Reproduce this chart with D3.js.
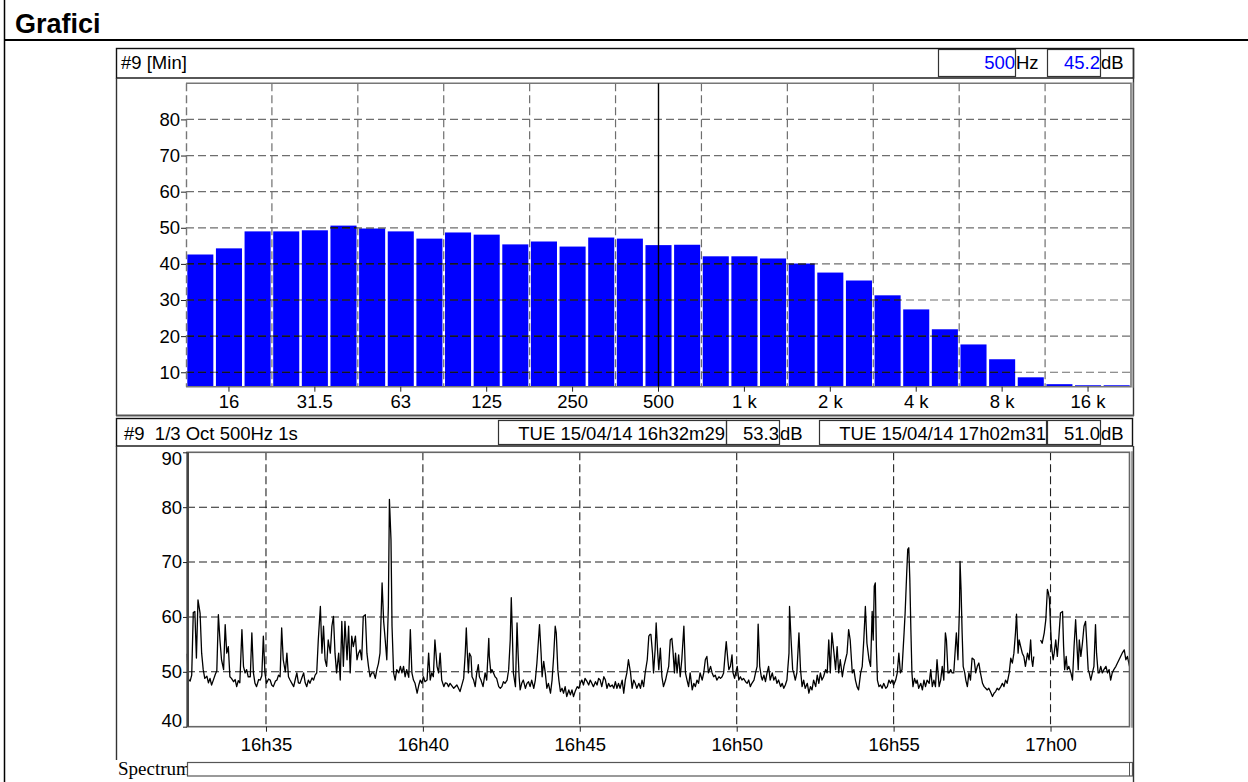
<!DOCTYPE html>
<html><head><meta charset="utf-8">
<script src="https://cdn.jsdelivr.net/npm/d3@7"></script>
<style>
html,body{margin:0;padding:0;background:#fff;}
svg{display:block;font-family:"Liberation Sans",Arial,Helvetica,sans-serif;}
text{white-space:pre;}
</style></head><body>
<svg id="chart" width="1248" height="782"></svg>
<script>
// ---- 1/3 octave spectrum (minimum levels) ----
const bandLabels = ["12.5","16","20","25","31.5","40","50","63","80","100","125","160","200","250","315","400","500","630","800","1k","1.25k","1.6k","2k","2.5k","3.15k","4k","5k","6.3k","8k","10k","12.5k","16k","20k"];
const bandMinDb  = [42.6,44.3,49.0,49.0,49.3,50.6,49.8,49.0,47.0,48.7,48.1,45.4,46.2,44.8,47.3,47.0,45.2,45.3,42.1,42.1,41.5,40.1,37.6,35.4,31.3,27.4,21.9,17.7,13.6,8.6,6.7,6.4,6.4];
const bandTicks  = ["16","31.5","63","125","250","500","1k","2k","4k","8k","16k"];
const bandTickText = ["16","31.5","63","125","250","500","1 k","2 k","4 k","8 k","16 k"];
const spectrumDbTicks = [10,20,30,40,50,60,70,80];
const cursorBand = "500";
const cursorDb = 45.2;

// ---- 500 Hz band level over time, [seconds after start, dB] ----
const startStamp = "TUE 15/04/14 16h32m29";
const endStamp   = "TUE 15/04/14 17h02m31";
const startDb = 53.3;
const endDb   = 51.0;
const levelTimeTicks = ["16h35","16h40","16h45","16h50","16h55","17h00"];
const levelDbTicks = [40,50,60,70,80,90];
const levelSamples = [
[0,53.3],[2,49.6],[3,48.6],[6,48.3],[9,49.4],[12,60.8],[15,61.0],[18,52.5],[21,63.1],[25,60.7],[28,53.4],[31,50.4],[34,48.8],[38,49.2],[41,48.0],[44,48.8],[47,47.6],[50,48.4],[54,49.5],[57,50.2],[60,60.4],[63,55.8],[66,52.2],[70,50.4],[73,58.6],[76,53.4],[79,54.6],[82,49.1],[85,48.8],[89,48.2],[92,48.6],[95,47.3],[98,48.4],[101,48.0],[105,57.7],[108,51.0],[111,49.8],[114,50.4],[117,49.1],[121,49.1],[124,57.1],[127,49.8],[130,47.9],[133,47.3],[137,48.6],[140,48.5],[143,49.3],[146,56.5],[149,49.8],[152,47.9],[156,48.7],[159,48.5],[162,47.6],[165,47.3],[169,48.3],[172,48.5],[175,49.4],[178,49.1],[181,58.0],[184,52.2],[188,50.0],[191,53.4],[194,49.1],[197,48.5],[201,47.8],[204,47.3],[207,48.6],[210,49.8],[213,48.0],[216,47.9],[220,49.0],[223,49.8],[226,48.0],[229,47.3],[232,48.5],[235,47.9],[239,48.9],[242,48.5],[245,49.4],[248,49.8],[251,55.8],[255,61.9],[258,53.4],[261,58.3],[264,52.2],[267,51.0],[270,55.8],[274,53.4],[277,58.3],[280,60.1],[283,53.4],[286,49.8],[290,53.4],[293,48.5],[296,59.2],[299,51.0],[302,59.2],[306,52.2],[309,58.3],[312,49.8],[315,56.5],[318,54.6],[322,56.5],[325,52.2],[328,53.4],[331,54.0],[334,52.2],[337,60.1],[341,60.4],[344,53.4],[347,51.0],[350,49.1],[353,49.8],[357,49.8],[360,48.8],[363,50.4],[366,51.5],[369,53.4],[373,66.2],[376,59.2],[379,55.8],[382,52.2],[385,61.9],[387,81.4],[390,74.1],[392,58.3],[395,49.8],[398,48.5],[401,50.4],[405,49.8],[408,51.0],[411,49.8],[414,51.0],[417,49.1],[420,50.4],[424,49.0],[427,57.7],[430,49.8],[433,48.5],[436,47.9],[440,46.1],[443,47.5],[446,48.5],[449,47.9],[452,49.1],[455,48.2],[459,48.5],[462,53.4],[465,48.5],[468,49.8],[471,49.1],[474,55.8],[478,51.0],[481,49.8],[484,53.4],[487,48.5],[491,47.3],[494,48.0],[497,47.9],[500,47.3],
[503,47.9],[510,47.0],[516,47.6],[522,46.4],[529,48.8],[532,53.4],[534,58.0],[536,53.4],[538,49.8],[540,53.4],[543,52.8],[545,49.1],[548,48.5],[551,47.3],[554,49.8],[557,51.3],[559,49.1],[562,48.5],[566,47.3],[570,49.8],[573,48.5],[577,56.1],[578,52.8],[581,49.8],[583,50.4],[586,49.8],[589,49.1],[592,48.8],[596,47.3],[599,47.0],[602,47.3],[605,48.2],[608,47.9],[612,48.5],[615,50.4],[618,55.8],[620,63.5],[622,57.1],[624,49.8],[628,47.3],[631,58.9],[633,53.4],[635,49.1],[637,46.7],[640,47.9],[643,48.5],[647,47.0],[650,47.9],[653,48.2],[656,47.3],[659,48.5],[663,47.0],[666,48.5],[669,51.6],[672,55.8],[674,58.6],[677,53.4],[679,49.1],[682,51.9],[685,49.8],[688,47.0],[691,47.9],[695,46.1],[698,48.5],[701,52.8],[704,58.3],[706,57.1],[709,50.4],[711,48.5],[714,46.4],[717,47.0],[720,46.1],[723,47.3],[726,45.5],[730,46.7],[733,45.8],[736,46.7],[739,45.5],[742,46.4],[746,47.3],[749,47.0],[752,47.9],[755,48.5],[758,47.6],[761,48.8],[765,48.2],[768,47.6],[771,48.5],[774,47.9],[777,47.3],[781,48.2],[784,47.6],[787,48.8],[790,48.5],[793,47.3],[797,49.1],[800,48.5],[803,47.0],[806,47.9],[809,47.3],[813,47.6],[816,47.0],[819,48.2],[822,47.0],[825,47.9],[828,47.0],[832,48.5],[835,46.1],[838,48.5],[841,49.8],[844,52.2],[848,49.8],[851,47.0],[854,48.5],[857,47.9],[860,47.0],[864,47.9],[867,47.0],[870,48.5],[873,47.3],[876,49.8],[880,52.2],[883,56.5],[885,56.8],[887,56.8],[890,53.4],[892,49.8],[895,54.0],[897,58.9],[900,53.4],[902,50.4],[905,54.3],[908,49.1],[911,47.3],[915,48.5],[918,49.8],[921,51.0],[924,55.8],[927,56.1],[929,54.0],[932,49.8],[934,53.4],[937,49.8],[940,53.1],[943,49.1],[946,52.2],[950,58.3],[953,49.8],[956,48.5],[959,47.3],[962,49.8],[966,46.7],[969,47.9],[972,47.3],[975,48.5],[978,47.9],[981,49.8],[985,48.5],[988,49.8],[991,52.2],[994,52.8],[997,49.8],[1001,51.0],
[1004,49.8],[1007,49.1],[1010,49.4],[1013,48.5],[1017,49.1],[1020,48.8],[1023,49.1],[1026,49.8],[1029,53.4],[1031,55.5],[1034,52.2],[1036,50.4],[1039,51.0],[1042,53.1],[1044,49.8],[1047,48.8],[1049,49.8],[1052,51.0],[1055,48.5],[1058,49.1],[1061,48.5],[1064,48.8],[1068,48.2],[1071,47.9],[1074,48.5],[1077,47.3],[1080,47.9],[1084,48.5],[1087,49.8],[1090,51.0],[1092,58.7],[1095,51.0],[1098,49.1],[1100,48.5],[1103,49.4],[1106,48.2],[1109,49.8],[1112,51.0],[1115,48.5],[1119,49.8],[1122,48.5],[1125,49.1],[1128,47.9],[1131,48.5],[1135,47.3],[1138,47.9],[1141,47.0],[1144,47.6],[1147,48.5],[1151,53.4],[1152,61.9],[1155,55.8],[1158,50.4],[1160,49.8],[1163,48.5],[1166,49.8],[1170,57.1],[1173,50.4],[1176,47.3],[1179,48.5],[1182,47.0],[1186,47.9],[1189,46.1],[1192,47.3],[1195,46.7],[1198,48.5],[1202,47.3],[1205,49.4],[1208,47.9],[1211,49.8],[1214,48.5],[1217,49.1],[1221,50.4],[1224,49.8],[1227,55.8],[1230,49.8],[1233,57.1],[1237,53.4],[1240,50.4],[1243,54.6],[1246,49.8],[1249,52.2],[1253,49.1],[1256,51.0],[1259,52.2],[1262,53.4],[1265,57.7],[1268,55.8],[1272,49.8],[1275,50.4],[1278,48.5],[1281,47.3],[1284,46.7],[1288,49.8],[1291,51.0],[1294,55.8],[1297,61.9],[1300,55.2],[1304,52.2],[1307,51.0],[1310,61.0],[1312,55.8],[1314,65.6],[1316,66.2],[1318,54.6],[1320,48.5],[1323,47.3],[1326,47.6],[1329,47.0],[1332,47.9],[1336,47.0],[1339,47.3],[1342,48.5],[1345,47.9],[1348,48.5],[1351,47.6],[1355,48.5],[1358,49.8],[1361,53.4],[1364,49.8],[1367,50.4],[1371,57.1],[1373,60.7],[1374,63.1],[1376,67.9],[1378,72.3],[1380,72.6],[1382,66.8],[1384,57.7],[1386,49.8],[1388,47.3],[1391,48.8],[1394,47.9],[1396,48.5],[1399,47.0],[1403,47.9],[1406,46.7],[1409,48.5],[1412,47.3],[1415,48.5],[1419,47.9],[1422,50.4],[1425,47.3],[1428,48.5],[1431,47.3],[1434,52.2],[1438,47.3],[1441,48.5],
[1444,51.0],[1447,48.5],[1450,57.1],[1452,55.8],[1455,49.8],[1457,49.8],[1460,50.4],[1463,49.8],[1466,49.8],[1470,55.8],[1471,57.1],[1474,52.2],[1477,61.9],[1478,70.1],[1480,64.9],[1482,57.1],[1484,51.0],[1487,49.8],[1489,48.5],[1492,47.3],[1495,49.8],[1498,48.5],[1501,52.5],[1505,52.2],[1508,49.8],[1511,51.0],[1514,51.6],[1517,49.8],[1521,47.9],[1524,47.3],[1527,47.0],[1530,46.7],[1533,47.0],[1536,46.4],[1540,45.5],[1543,46.1],[1546,46.4],[1549,47.0],[1552,46.7],[1556,47.3],[1559,47.9],[1562,47.3],[1565,48.5],[1568,47.9],[1572,49.8],[1575,52.5],[1578,51.6],[1581,53.4],[1584,57.1],[1586,60.5],[1589,53.4],[1591,55.8],[1594,54.6],[1597,53.4],[1600,52.8],[1603,51.0],[1607,53.4],[1610,52.2],[1613,55.8],[1615,52.2],[1617,51.0],[1619,52.8],[1625,null],
[1632,55.8],[1635,55.2],[1639,57.1],[1642,59.5],[1645,65.0],[1647,64.4],[1649,63.1],[1651,58.3],[1653,54.6],[1656,52.2],[1658,53.4],[1661,55.8],[1664,52.8],[1667,56.4],[1670,60.7],[1674,61.0],[1676,54.6],[1678,50.4],[1681,52.8],[1683,50.4],[1686,51.0],[1690,49.8],[1693,48.5],[1696,54.6],[1699,59.5],[1701,55.8],[1704,50.4],[1706,55.8],[1709,52.8],[1712,55.2],[1715,58.3],[1718,59.2],[1720,55.8],[1723,50.4],[1725,49.8],[1728,48.5],[1731,49.8],[1734,51.0],[1737,58.6],[1739,53.4],[1742,49.8],[1744,49.8],[1747,51.0],[1750,49.8],[1753,50.4],[1757,51.0],[1760,49.8],[1763,50.4],[1766,48.5],[1769,49.8],[1772,50.4],[1776,51.0],[1779,51.6],[1782,52.2],[1785,52.8],[1788,53.4],[1792,54.0],[1795,52.2],[1798,52.8],[1802,51.0]
];

const svg = d3.select("#chart");
const FS = 18.5;
const BLUE = "#0000ff";

// ---- page frame and title ----
svg.append("line").attr("x1",4.5).attr("x2",4.5).attr("y1",0).attr("y2",782).attr("stroke","#000").attr("stroke-width",1.5);
svg.append("line").attr("x1",4).attr("x2",1248).attr("y1",40).attr("y2",40).attr("stroke","#000").attr("stroke-width",2);
svg.append("text").attr("x",15).attr("y",33).attr("font-size",27).attr("font-weight","bold").text("Grafici");

function box(x, y, w, h, stroke, sw){
  return svg.append("rect").attr("x",x).attr("y",y).attr("width",w).attr("height",h)
    .attr("fill","none").attr("stroke",stroke||"#222").attr("stroke-width",sw||1.2);
}
function vline(x, y1, y2, stroke, sw){
  return svg.append("line").attr("x1",x).attr("x2",x).attr("y1",y1).attr("y2",y2)
    .attr("stroke",stroke||"#222").attr("stroke-width",sw||1.2);
}
function hline(y, x1, x2, stroke, sw){
  return svg.append("line").attr("x1",x1).attr("x2",x2).attr("y1",y).attr("y2",y)
    .attr("stroke",stroke||"#222").attr("stroke-width",sw||1.2);
}
function label(x, y, txt, anchor, fill){
  return svg.append("text").attr("x",x).attr("y",y).attr("font-size",FS)
    .attr("text-anchor",anchor||"start").attr("fill",fill||"#000").text(txt);
}

// ================= spectrum panel =================
box(116.5, 48.5, 1017, 29.5, "#111", 1.4);
label(121, 69, "#9 [Min]");
box(938.5, 49.5, 77, 27, "#333", 1.2);
label(1015, 69, cursorBand, "end", BLUE);
label(1016, 69, "Hz");
box(1047.5, 49.5, 53, 27, "#333", 1.2);
label(1100, 69, cursorDb.toFixed(1), "end", BLUE);
label(1101, 69, "dB");
vline(116.5, 78, 416, "#333", 1.4);
vline(1133.5, 48, 416, "#333", 1.4);
hline(415.5, 116, 1134, "#555", 2);

const sp = {l:186, r:1131, t:83.3, b:386.7};
const xb = d3.scaleBand().domain(bandLabels).range([sp.l, sp.r]).paddingInner(0.09).paddingOuter(0.045);
const ys = d3.scaleLinear().domain([6, 90]).range([sp.b, sp.t]);
const bandData = bandLabels.map((b,i)=>({band:b, db:bandMinDb[i]}));

svg.append("defs").append("clipPath").attr("id","barClip")
  .selectAll("rect").data(bandData).join("rect")
  .attr("x",d=>xb(d.band)).attr("width",xb.bandwidth())
  .attr("y",d=>ys(d.db)).attr("height",d=>ys(6)-ys(d.db));

svg.append("g").selectAll("rect").data(bandData).join("rect")
  .attr("x",d=>xb(d.band)).attr("width",xb.bandwidth())
  .attr("y",d=>ys(d.db)).attr("height",d=>ys(6)-ys(d.db))
  .attr("fill",BLUE);

// band group boundaries every three bands
const gridBands = bandLabels.filter((b,i)=>i%3===0 && i>0);
const half = xb.step()*xb.paddingInner()/2;
function spectrumGrid(g, color){
  g.selectAll("line.h").data(spectrumDbTicks).join("line").attr("class","h")
    .attr("x1",sp.l).attr("x2",sp.r).attr("y1",d=>ys(d)).attr("y2",d=>ys(d))
    .attr("stroke",color).attr("stroke-width",1.2).attr("stroke-dasharray","8,4");
  g.selectAll("line.v").data(gridBands).join("line").attr("class","v")
    .attr("x1",d=>xb(d)-half).attr("x2",d=>xb(d)-half).attr("y1",sp.t).attr("y2",sp.b)
    .attr("stroke",color).attr("stroke-width",1.2).attr("stroke-dasharray","8,4");
}
spectrumGrid(svg.append("g"), "#6e6e6e");
spectrumGrid(svg.append("g").attr("clip-path","url(#barClip)"), "#000");

svg.append("line").attr("x1",sp.l+0.5).attr("x2",sp.l+0.5).attr("y1",sp.t).attr("y2",sp.b)
  .attr("stroke","#777").attr("stroke-width",1.4).attr("stroke-dasharray","8,4");
svg.append("path").attr("d",`M${sp.l},${sp.t}H${sp.r}V${sp.b}H${sp.l}`)
  .attr("fill","none").attr("stroke","#777").attr("stroke-width",1.6);
vline(sp.r+2, sp.t-1, sp.b+1, "#888", 1);

// cursor on the selected band
const cx = xb(cursorBand) + xb.bandwidth()/2;
vline(cx, sp.t, sp.b, "#000", 1.4);

const axB = svg.append("g").attr("transform",`translate(0,${sp.b})`)
  .call(d3.axisBottom(xb).tickValues(bandTicks).tickFormat((d,i)=>bandTickText[i]).tickSize(5).tickPadding(3));
const axL = svg.append("g").attr("transform",`translate(${sp.l},0)`)
  .call(d3.axisLeft(ys).tickValues(spectrumDbTicks).tickSize(5).tickPadding(1));
[axB, axL].forEach(a=>{
  a.select(".domain").remove();
  a.selectAll("text").attr("font-size",FS).attr("fill","#000");
  a.selectAll("line").attr("stroke","#222");
  a.attr("font-family",null);
});

// ================= level-vs-time panel =================
box(116.5, 418.5, 1016, 27.5, "#111", 1.4);
label(124, 440, "#9  1/3 Oct " + cursorBand + "Hz 1s");
box(498.5, 420.5, 228, 24, "#333", 1.2);
label(725, 440, startStamp, "end");
box(726.5, 420.5, 53, 24, "#333", 1.2);
label(779, 440, startDb.toFixed(1), "end");
label(780, 440, "dB");
box(819.5, 420.5, 227, 24, "#333", 1.2);
label(1046, 440, endStamp, "end");
box(1047.5, 420.5, 53, 24, "#333", 1.2);
label(1100, 440, endDb.toFixed(1), "end");
label(1101, 440, "dB");
vline(116.5, 446, 760, "#333", 1.4);
vline(1133.5, 446, 782, "#333", 1.4);

const lp = {l:187, r:1129.5, t:452.3, b:726.7};
const t0 = new Date(2014, 3, 15, 16, 32, 29);
const t1 = new Date(2014, 3, 15, 17, 2, 31);
const xt = d3.scaleTime().domain([t0, t1]).range([lp.l, lp.r]);
const yl = d3.scaleLinear().domain([40, 90]).range([lp.b, lp.t]);
const parseTick = d3.timeParse("%Hh%M");
const timeTickDates = levelTimeTicks.map(s=>{
  const p = parseTick(s);
  return new Date(2014, 3, 15, p.getHours(), p.getMinutes(), 0);
});
const series = levelSamples.map(d=>({t:new Date(t0.getTime()+d[0]*1000), db:d[1]}));

const lg = svg.append("g");
lg.selectAll("line.h").data(levelDbTicks.filter(v=>v>40 && v<90)).join("line").attr("class","h")
  .attr("x1",lp.l).attr("x2",lp.r).attr("y1",d=>yl(d)).attr("y2",d=>yl(d))
  .attr("stroke","#222").attr("stroke-width",1.1).attr("stroke-dasharray","8,4");
lg.selectAll("line.v").data(timeTickDates).join("line").attr("class","v")
  .attr("x1",d=>xt(d)).attr("x2",d=>xt(d)).attr("y1",lp.t).attr("y2",lp.b)
  .attr("stroke","#222").attr("stroke-width",1.1).attr("stroke-dasharray","8,4");

svg.append("path").datum(series)
  .attr("d", d3.line().defined(d=>d.db!=null).x(d=>xt(d.t)).y(d=>yl(d.db)))
  .attr("fill","none").attr("stroke","#000").attr("stroke-width",1.3).attr("stroke-linejoin","round");

box(lp.l, lp.t, lp.r-lp.l, lp.b-lp.t, "#666", 1.6);
vline(lp.l+1, lp.t, lp.b, "#444", 2);
vline(lp.r+2.5, lp.t-1, lp.b+1, "#666", 1.2);

const axT = svg.append("g").attr("transform",`translate(0,${lp.b})`)
  .call(d3.axisBottom(xt).tickValues(timeTickDates).tickFormat(d3.timeFormat("%Hh%M")).tickSize(5).tickPadding(6));
const axY = svg.append("g").attr("transform",`translate(${lp.l},0)`)
  .call(d3.axisLeft(yl).tickValues(levelDbTicks).tickSize(4).tickPadding(1));
[axT, axY].forEach(a=>{
  a.select(".domain").remove();
  a.selectAll("text").attr("font-size",FS).attr("fill","#000");
  a.selectAll("line").attr("stroke","#222");
  a.attr("font-family",null);
});
// keep the end labels inside the plot height
axY.selectAll(".tick text").attr("dy", d=>{
  const p = yl(d);
  const off = Math.max(lp.t + 6.5 - p, 0) + Math.min(lp.b - 6 - p, 0);
  return (off/FS + 0.32) + "em";
});

// spectrum strip at the bottom
svg.append("defs").append("clipPath").attr("id","specClip")
  .append("rect").attr("x",110).attr("y",755).attr("width",77).attr("height",27);
svg.append("text").attr("x",118).attr("y",775).attr("font-size",19)
  .attr("font-family","'Liberation Serif','DejaVu Serif',serif").attr("clip-path","url(#specClip)").text("Spectrum");
box(187.5, 762.5, 945, 13.5, "#555", 1.2);
vline(1129.5, 763, 776, "#555", 1);
</script>
</body></html>
